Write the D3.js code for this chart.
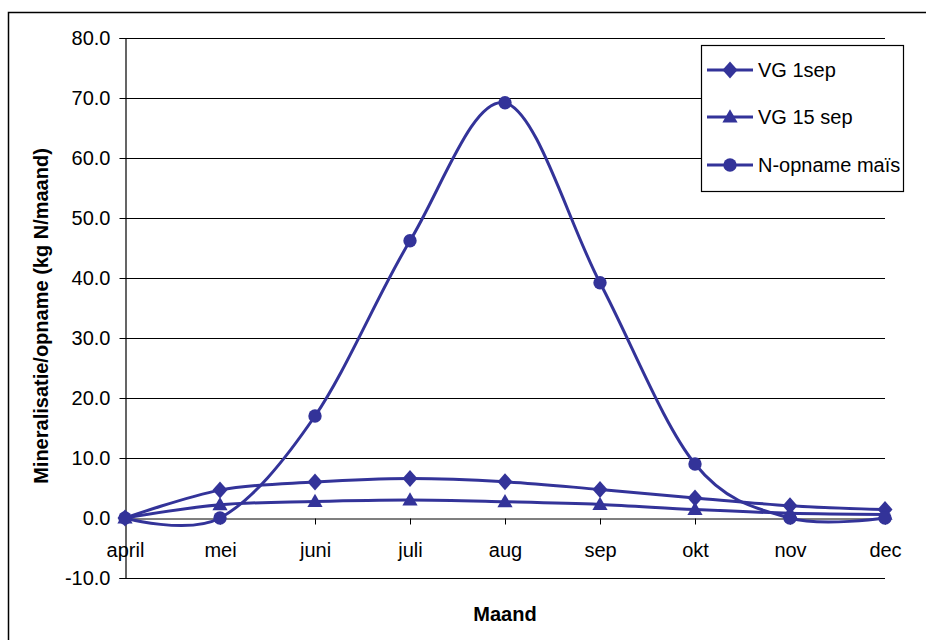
<!DOCTYPE html>
<html lang="nl">
<head>
  <meta charset="utf-8">
  <title>Mineralisatie / opname</title>
  <script src="https://cdn.jsdelivr.net/npm/d3@7"></script>
  <style>
    body { margin: 0; background: #fff; }
    svg text { font-family: "Liberation Sans", Arial, sans-serif; fill: #000; }
  </style>
</head>
<body>
  <div id="chart"></div>
  <script>
    var months = ["april", "mei", "juni", "juli", "aug", "sep", "okt", "nov", "dec"];
    var vg1sep = [0, 4.65, 6.0, 6.6, 6.05, 4.75, 3.35, 2.05, 1.4];
    var vg15sep = [0, 2.2, 2.75, 3.0, 2.7, 2.25, 1.4, 0.8, 0.6];
    var nOpname = [0, 0, 17.0, 46.2, 69.2, 39.2, 9.0, 0, 0];
    var yTicks = [-10, 0, 10, 20, 30, 40, 50, 60, 70, 80];

    var series = [
      { name: "VG 1sep", values: vg1sep, marker: "diamond" },
      { name: "VG 15 sep", values: vg15sep, marker: "triangle" },
      { name: "N-opname maïs", values: nOpname, marker: "circle" }
    ];

    var W = 926, H = 640;
    var color = "#333399";

    var svg = d3.select("#chart").append("svg")
      .attr("width", W)
      .attr("height", H);

    // outer chart border (runs off right / bottom like the original)
    svg.append("rect")
      .attr("x", 8.5).attr("y", 12.5)
      .attr("width", 930).attr("height", 660)
      .attr("fill", "none").attr("stroke", "#000").attr("stroke-width", 1.5);

    var x = d3.scalePoint().domain(months).range([125, 885]);
    var y = d3.scaleLinear().domain([-10, 80]).range([578, 38]);

    // gridlines
    svg.append("g").selectAll("line")
      .data(yTicks.filter(function (d) { return d !== 0; }))
      .enter().append("line")
      .attr("x1", 125).attr("x2", 885)
      .attr("y1", function (d) { return Math.round(y(d)) + 0.5; })
      .attr("y2", function (d) { return Math.round(y(d)) + 0.5; })
      .attr("stroke", "#000").attr("stroke-width", 1.2);

    // y axis, plain hyphen for negative numbers
    var fmt = d3.format(".1f");
    var yAxis = svg.append("g")
      .attr("transform", "translate(125.5,0)")
      .call(d3.axisLeft(y).tickValues(yTicks)
        .tickFormat(function (d) { return fmt(d).replace("\u2212", "-"); })
        .tickSize(6).tickPadding(9));
    yAxis.select(".domain").attr("stroke", "#000").attr("stroke-width", 1.2);
    yAxis.selectAll(".tick line").attr("stroke", "#000");
    yAxis.selectAll("text").style("font-size", "20px").attr("fill", "#000");

    // x axis on y = 0
    var xAxis = svg.append("g")
      .attr("transform", "translate(0," + (Math.round(y(0)) + 0.5) + ")")
      .call(d3.axisBottom(x).tickSize(6).tickPadding(18).tickSizeOuter(0));
    xAxis.select(".domain").attr("stroke", "#000").attr("stroke-width", 1.2);
    xAxis.selectAll(".tick line").attr("stroke", "#000");
    xAxis.selectAll("text").style("font-size", "20px").attr("fill", "#000");

    // axis titles
    svg.append("text")
      .attr("transform", "translate(48,316) rotate(-90)")
      .attr("text-anchor", "middle")
      .style("font-size", "20px").style("font-weight", "bold")
      .text("Mineralisatie/opname (kg N/maand)");

    svg.append("text")
      .attr("x", 505).attr("y", 621)
      .attr("text-anchor", "middle")
      .style("font-size", "20px").style("font-weight", "bold")
      .text("Maand");

    // Excel-like markers
    var diamond = function () { return "M0,-8.5L7.5,0L0,8.5L-7.5,0Z"; };
    var symbols = {
      diamond: diamond,
      triangle: d3.symbol().type(d3.symbolTriangle).size(100),
      circle: d3.symbol().type(d3.symbolCircle).size(140)
    };

    var line = d3.line()
      .x(function (d, i) { return x(months[i]); })
      .y(function (d) { return y(d); })
      .curve(d3.curveCardinal.tension(0));

    series.forEach(function (s) {
      var g = svg.append("g");
      g.append("path")
        .datum(s.values)
        .attr("d", line)
        .attr("fill", "none")
        .attr("stroke", color)
        .attr("stroke-width", 3);
      g.selectAll("path.mk")
        .data(s.values)
        .enter().append("path")
        .attr("class", "mk")
        .attr("d", symbols[s.marker])
        .attr("transform", function (d, i) {
          var dy = s.marker === "triangle" ? 1 : 0;
          return "translate(" + x(months[i]) + "," + (y(d) + dy) + ")";
        })
        .attr("fill", color);
    });

    // legend
    var legend = svg.append("g");
    legend.append("rect")
      .attr("x", 701.5).attr("y", 45.5)
      .attr("width", 202).attr("height", 146)
      .attr("fill", "#fff").attr("stroke", "#000").attr("stroke-width", 1.2);

    var legendY = [70, 117, 165];
    series.forEach(function (s, i) {
      var ly = legendY[i];
      legend.append("line")
        .attr("x1", 707).attr("x2", 753)
        .attr("y1", ly).attr("y2", ly)
        .attr("stroke", color).attr("stroke-width", 3);
      legend.append("path")
        .attr("d", symbols[s.marker])
        .attr("transform", "translate(730," + (ly + (s.marker === "triangle" ? 1 : 0)) + ")")
        .attr("fill", color);
      legend.append("text")
        .attr("x", 758).attr("y", ly + 7)
        .style("font-size", "20px")
        .text(s.name);
    });
  </script>
</body>
</html>
